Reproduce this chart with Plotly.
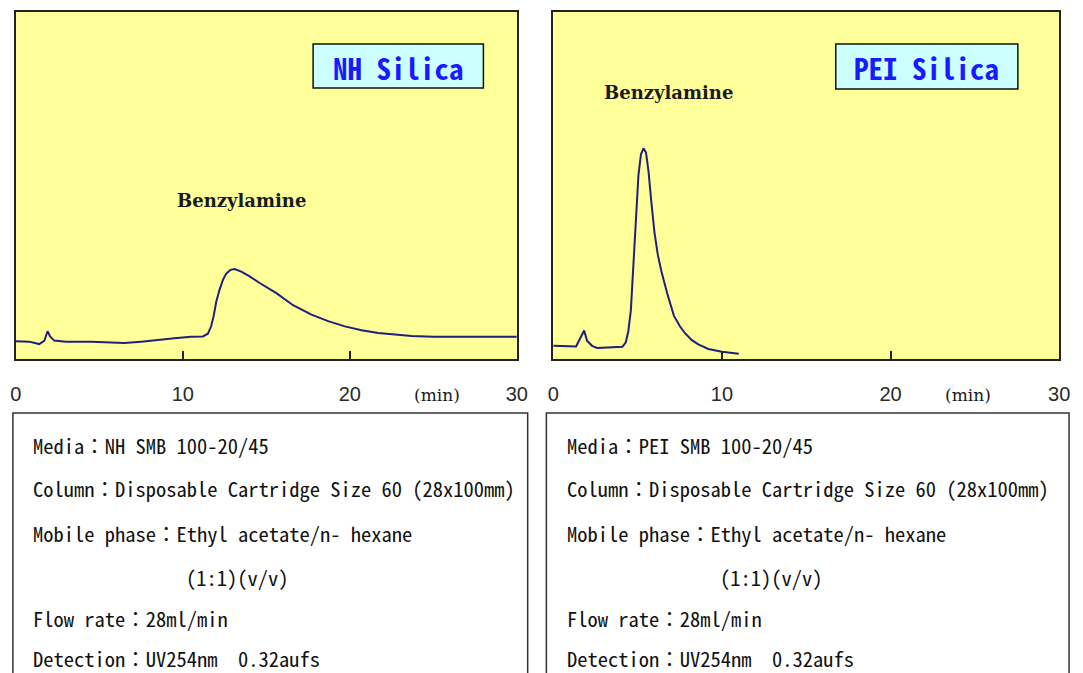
import plotly.graph_objects as go

W, H = 1083, 673

# ---- data ----
nh_time = [0.0, 0.8, 1.4, 1.7, 1.9, 2.05, 2.3, 3.0, 4.5, 5.5, 6.5, 7.5, 8.5, 9.5, 10.5, 11.2,
           11.5, 11.7, 11.85, 12.0, 12.2, 12.4, 12.6, 12.85, 13.1, 13.5, 14.0, 14.6, 15.6,
           16.6, 17.7, 18.7, 19.7, 20.7, 21.7, 22.7, 23.7, 25.0, 30.0]
nh_signal = [5.1, 5.0, 4.3, 5.2, 8.0, 6.5, 5.3, 5.0, 5.0, 4.9, 4.6, 5.0, 5.6, 6.0, 6.4, 6.5,
             7.3, 9.5, 12.5, 16.5, 20.0, 22.8, 24.6, 25.7, 25.9, 25.2, 23.8, 21.9, 19.0,
             15.5, 12.8, 10.9, 9.4, 8.3, 7.5, 7.0, 6.6, 6.4, 6.4]

pei_time = [0.0, 1.0, 1.35, 1.6, 1.83, 2.0, 2.3, 2.6, 3.5, 4.1, 4.3, 4.45, 4.6, 4.75, 4.9,
            5.05, 5.2, 5.35, 5.5, 5.65, 5.8, 6.0, 6.2, 6.4, 6.75, 7.15, 7.5, 7.8, 8.2, 8.6,
            9.2, 10.0, 11.0]
pei_signal = [3.8, 3.6, 3.6, 6.0, 8.2, 5.3, 3.8, 3.2, 3.3, 3.5, 4.8, 8.0, 14.0, 28.0, 42.0,
              53.0, 59.0, 60.7, 59.5, 54.0, 46.0, 36.5, 30.0, 25.5, 19.0, 12.5, 9.5, 7.5, 5.5,
              4.2, 2.9, 2.1, 1.5]

tick_vals = [0, 10, 20, 30]
tick_text = ["0", "10", "20", "30"]

panel_titles = ["NH Silica", "PEI Silica"]
peak_label = "Benzylamine"
unit_label = "(min)"

nh_conditions = [
    "Media：NH SMB 100-20/45",
    "Column：Disposable Cartridge Size 60 (28x100mm)",
    "Mobile phase：Ethyl acetate/n- hexane",
    "(1:1)(v/v)",
    "Flow rate：28ml/min",
    "Detection：UV254nm  0.32aufs",
]
pei_conditions = [
    "Media：PEI SMB 100-20/45",
    "Column：Disposable Cartridge Size 60 (28x100mm)",
    "Mobile phase：Ethyl acetate/n- hexane",
    "(1:1)(v/v)",
    "Flow rate：28ml/min",
    "Detection：UV254nm  0.32aufs",
]

# ---- helpers ----
def px(x):
    return x / W

def py(y):
    return 1 - y / H

LINE_COLOR = "#1f1f80"
BG = "#ffff99"
MONO = "Noto Sans Mono CJK JP, Noto Sans CJK JP, Liberation Mono, monospace"

fig = go.Figure()
fig.add_trace(go.Scatter(x=nh_time, y=nh_signal, mode="lines",
                         line=dict(color=LINE_COLOR, width=2), xaxis="x", yaxis="y",
                         showlegend=False, hoverinfo="skip"))
fig.add_trace(go.Scatter(x=pei_time, y=pei_signal, mode="lines",
                         line=dict(color=LINE_COLOR, width=2), xaxis="x2", yaxis="y2",
                         showlegend=False, hoverinfo="skip"))

xcommon = dict(range=[0, 30], tickvals=tick_vals, ticktext=tick_text, ticks="inside",
               ticklen=8, tickwidth=1.5, tickcolor="#222", showline=True, mirror=True,
               linecolor="#222", linewidth=1.5, showgrid=False, zeroline=False,
               tickfont=dict(family="Liberation Sans, Arial", size=20, color="#2a2a2a"),
               ticklabelstandoff=16, fixedrange=True)
ycommon = dict(range=[0, 100], showticklabels=False, ticks="", showline=True, mirror=True,
               linecolor="#222", linewidth=1.5, showgrid=False, zeroline=False,
               fixedrange=True)

fig.update_layout(
    width=W, height=H,
    margin=dict(l=0, r=0, t=0, b=0),
    paper_bgcolor="white",
    plot_bgcolor=BG,
    xaxis=dict(domain=[px(10), px(519)], anchor="y", **xcommon),
    yaxis=dict(domain=[py(359), py(12)], anchor="x", **ycommon),
    xaxis2=dict(domain=[px(556), px(1070)], anchor="y2", **xcommon),
    yaxis2=dict(domain=[py(359), py(12)], anchor="x2", **ycommon),
)

shapes = []
annotations = []

# title boxes
for (x0, x1, y0, y1), title in zip([(312, 485, 44, 88), (843, 1028, 44, 89)], panel_titles):
    shapes.append(dict(type="rect", xref="paper", yref="paper",
                       x0=px(x0), x1=px(x1), y0=py(y1), y1=py(y0),
                       fillcolor="#ccffff", line=dict(color="#111", width=1.5)))
    annotations.append(dict(xref="paper", yref="paper", x=px((x0 + x1) / 2), y=py((y0 + y1) / 2 + 1),
                            text="<b>" + title + "</b>", showarrow=False,
                            xanchor="center", yanchor="middle",
                            font=dict(family=MONO, size=29, color="#1a1aff")))

# peak labels
annotations.append(dict(xref="x", yref="y", x=13.5, y=45.8, text="<b>" + peak_label + "</b>",
                        showarrow=False,
                        font=dict(family="DejaVu Serif", size=18, color="#1a1a1a"),
                        xanchor="center", yanchor="middle"))
annotations.append(dict(xref="x2", yref="y2", x=6.83, y=76.7, text="<b>" + peak_label + "</b>",
                        showarrow=False,
                        font=dict(family="DejaVu Serif", size=18, color="#1a1a1a"),
                        xanchor="center", yanchor="middle"))

# unit labels
annotations.append(dict(xref="x", yref="paper", x=25.2, y=py(395), text=unit_label, showarrow=False,
                        font=dict(family="DejaVu Serif", size=17, color="#1a1a1a"),
                        xanchor="center", yanchor="middle"))
annotations.append(dict(xref="x2", yref="paper", x=24.6, y=py(395), text=unit_label, showarrow=False,
                        font=dict(family="DejaVu Serif", size=17, color="#1a1a1a"),
                        xanchor="center", yanchor="middle"))

# condition boxes
line_y = [445, 488, 533, 577, 618, 658]
for (bx0, bx1, tx, indent_x), lines in zip([(7, 530, 25, 181), (549, 1080, 568, 723)],
                                           [nh_conditions, pei_conditions]):
    shapes.append(dict(type="rect", xref="paper", yref="paper",
                       x0=px(bx0), x1=px(bx1), y0=-0.05, y1=py(413),
                       fillcolor="white", line=dict(color="#333", width=1.5), layer="below"))
    for i, (txt, yy) in enumerate(zip(lines, line_y)):
        xx = indent_x if i == 3 else tx
        annotations.append(dict(xref="paper", yref="paper", x=px(xx), y=py(yy), text=txt,
                                showarrow=False, xanchor="left", yanchor="middle",
                                font=dict(family=MONO, size=20.5, color="#111")))

fig.update_layout(shapes=shapes, annotations=annotations)

fig.write_html(
    "out.html",
    config={"displayModeBar": False},
    post_script="document.body.style.margin='0';document.body.style.overflow='hidden';",
)
